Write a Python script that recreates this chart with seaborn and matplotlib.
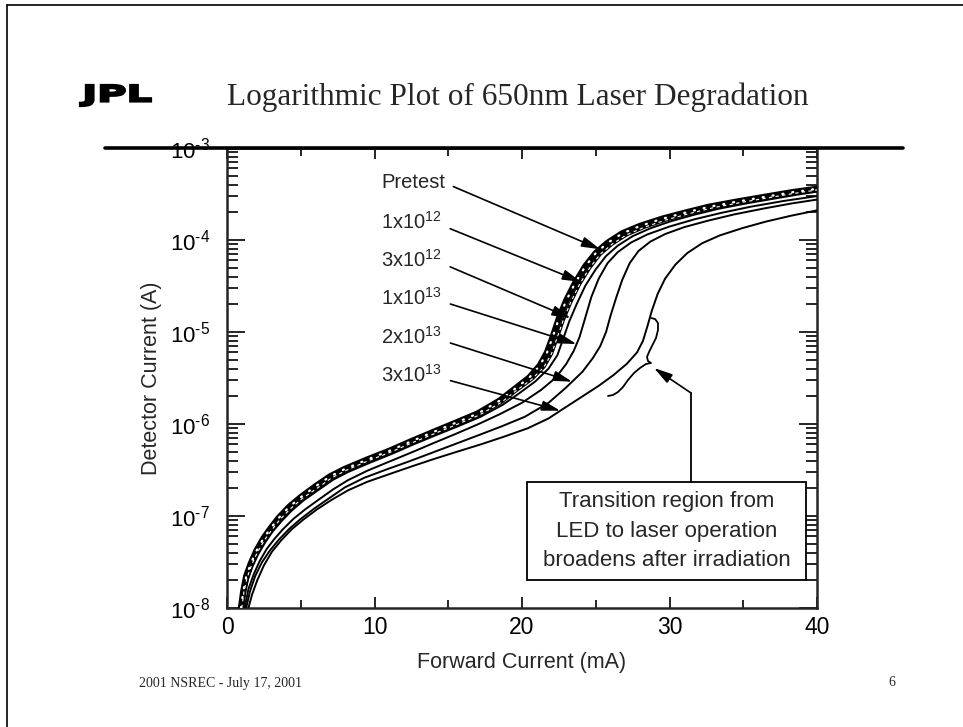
import numpy as np
import pandas as pd
import matplotlib
matplotlib.use("Agg")
import matplotlib.pyplot as plt
import seaborn as sns
from matplotlib.ticker import LogLocator, MultipleLocator, NullFormatter, FuncFormatter
from matplotlib.textpath import TextPath
from matplotlib.patches import PathPatch, Rectangle
from matplotlib.font_manager import FontProperties
from matplotlib.transforms import Affine2D
from matplotlib.lines import Line2D

# ---------------- data: forward current (mA) vs detector current (A) ----------------
doses = ["Pretest", "1x10$^{12}$", "3x10$^{12}$", "1x10$^{13}$", "2x10$^{13}$", "3x10$^{13}$"]

pretest_ma = [0.95, 1.1, 1.3, 1.6, 2.0, 2.5, 3.0, 3.5, 4.2, 5.0, 6.0, 7.0, 8.0, 9.5, 11.0,
              12.5, 14.0, 15.5, 17.0, 18.5, 19.5, 20.5, 21.2, 21.7, 22.1, 22.5, 23.0, 23.6,
              24.3, 25.0, 25.8, 26.8, 28.0, 29.5, 31.0, 32.7, 34.5, 36.5, 38.3, 40.0]
pretest_a = [1.0e-8, 1.5e-8, 2.2e-8, 3.0e-8, 4.2e-8, 5.8e-8, 7.5e-8, 9.5e-8, 1.25e-7, 1.6e-7,
             2.1e-7, 2.7e-7, 3.25e-7, 4.1e-7, 5.1e-7, 6.5e-7, 8.2e-7, 1.03e-6, 1.3e-6, 1.8e-6,
             2.4e-6, 3.2e-6, 4.3e-6, 6.0e-6, 9.0e-6, 1.4e-5, 2.2e-5, 3.4e-5, 5.2e-5, 7.2e-5,
             9.3e-5, 1.18e-4, 1.42e-4, 1.7e-4, 1.97e-4, 2.3e-4, 2.6e-4, 2.95e-4, 3.3e-4, 3.6e-4]

d1e12_ma = [1.0, 1.15, 1.35, 1.65, 2.05, 2.55, 3.05, 3.6, 4.3, 5.1, 6.1, 7.1, 8.1, 9.6, 11.1,
            12.6, 14.1, 15.6, 17.1, 18.6, 19.6, 20.7, 21.5, 22.0, 22.4, 22.8, 23.3, 23.9,
            24.6, 25.3, 26.1, 27.1, 28.3, 29.8, 31.3, 33.0, 34.8, 36.7, 38.4, 40.0]
d1e12_a = [1.0e-8, 1.5e-8, 2.1e-8, 2.9e-8, 4.0e-8, 5.5e-8, 7.1e-8, 9.2e-8, 1.2e-7, 1.55e-7,
           2.0e-7, 2.6e-7, 3.15e-7, 4.0e-7, 4.95e-7, 6.3e-7, 7.9e-7, 9.9e-7, 1.25e-6, 1.72e-6,
           2.3e-6, 3.1e-6, 4.2e-6, 5.8e-6, 8.8e-6, 1.35e-5, 2.1e-5, 3.3e-5, 5.0e-5, 7.0e-5,
           9.0e-5, 1.14e-4, 1.38e-4, 1.66e-4, 1.93e-4, 2.25e-4, 2.55e-4, 2.88e-4, 3.2e-4, 3.5e-4]

d3e12_ma = [1.05, 1.2, 1.4, 1.7, 2.1, 2.6, 3.1, 3.7, 4.4, 5.2, 6.2, 7.2, 8.2, 9.7, 11.2,
            12.7, 14.2, 15.7, 17.2, 18.7, 19.8, 20.9, 21.8, 22.4, 22.8, 23.2, 23.7, 24.3,
            25.0, 25.7, 26.5, 27.5, 28.7, 30.1, 31.6, 33.3, 35.1, 37.0, 38.6, 40.0]
d3e12_a = [1.0e-8, 1.45e-8, 2.0e-8, 2.75e-8, 3.8e-8, 5.2e-8, 6.8e-8, 8.8e-8, 1.15e-7, 1.48e-7,
           1.92e-7, 2.48e-7, 3.0e-7, 3.8e-7, 4.75e-7, 6.05e-7, 7.6e-7, 9.5e-7, 1.2e-6, 1.62e-6,
           2.15e-6, 2.9e-6, 4.0e-6, 5.6e-6, 8.5e-6, 1.3e-5, 2.0e-5, 3.2e-5, 4.8e-5, 6.7e-5,
           8.7e-5, 1.1e-4, 1.34e-4, 1.6e-4, 1.87e-4, 2.18e-4, 2.48e-4, 2.8e-4, 3.1e-4, 3.35e-4]

d1e13_ma = [1.2, 1.45, 1.8, 2.2, 2.7, 3.2, 3.8, 4.5, 5.3, 6.2, 7.2, 8.2, 9.5, 11.0, 12.5,
            14.0, 15.5, 17.0, 18.5, 20.0, 21.3, 22.3, 23.0, 23.5, 23.9, 24.3, 24.7, 25.2,
            25.8, 26.5, 27.4, 28.5, 30.0, 31.7, 33.5, 35.5, 37.7, 40.0]
d1e13_a = [1.0e-8, 1.6e-8, 2.3e-8, 3.2e-8, 4.4e-8, 5.6e-8, 7.2e-8, 9.3e-8, 1.18e-7, 1.5e-7,
           1.95e-7, 2.45e-7, 3.1e-7, 3.9e-7, 4.9e-7, 6.2e-7, 7.8e-7, 9.9e-7, 1.28e-6, 1.7e-6,
           2.35e-6, 3.2e-6, 4.5e-6, 6.2e-6, 8.8e-6, 1.45e-5, 2.4e-5, 3.8e-5, 5.6e-5, 7.4e-5,
           9.4e-5, 1.15e-4, 1.4e-4, 1.68e-4, 1.97e-4, 2.3e-4, 2.65e-4, 3.0e-4]

d2e13_ma = [1.3, 1.55, 1.9, 2.35, 2.9, 3.5, 4.2, 5.0, 5.9, 6.9, 8.0, 9.3, 10.8, 12.3, 13.8,
            15.4, 17.0, 18.6, 20.2, 21.8, 23.0, 24.1, 24.8, 25.3, 25.7, 26.0, 26.4, 26.8,
            27.3, 27.9, 28.7, 29.7, 31.0, 32.6, 34.4, 36.4, 38.3, 40.0]
d2e13_a = [1.0e-8, 1.5e-8, 2.2e-8, 3.1e-8, 4.2e-8, 5.5e-8, 7.2e-8, 9.3e-8, 1.2e-7, 1.55e-7,
           2.05e-7, 2.6e-7, 3.2e-7, 3.9e-7, 4.8e-7, 6.0e-7, 7.5e-7, 9.4e-7, 1.2e-6, 1.7e-6,
           2.5e-6, 3.7e-6, 5.2e-6, 7.0e-6, 1.0e-5, 1.5e-5, 2.4e-5, 3.7e-5, 5.6e-5, 7.6e-5,
           9.6e-5, 1.16e-4, 1.38e-4, 1.62e-4, 1.9e-4, 2.2e-4, 2.5e-4, 2.75e-4]

d3e13_ma = [1.45, 1.7, 2.05, 2.5, 3.05, 3.7, 4.4, 5.2, 6.1, 7.1, 8.2, 9.5, 11.0, 12.5, 14.0,
            15.6, 17.2, 18.8, 20.4, 21.8, 22.9, 24.0, 25.2, 26.2, 27.1, 27.8, 28.2, 28.5,
            28.8, 29.2, 29.7, 30.4, 31.2, 32.2, 33.4, 34.9, 36.5, 38.2, 40.0]
d3e13_a = [1.0e-8, 1.4e-8, 2.0e-8, 2.9e-8, 4.1e-8, 5.5e-8, 7.2e-8, 9.2e-8, 1.18e-7, 1.5e-7,
           1.9e-7, 2.35e-7, 2.85e-7, 3.45e-7, 4.15e-7, 5.0e-7, 6.0e-7, 7.3e-7, 9.0e-7, 1.15e-6,
           1.5e-6, 1.95e-6, 2.6e-6, 3.4e-6, 4.5e-6, 6.0e-6, 8.0e-6, 1.15e-5, 1.7e-5, 2.6e-5,
           3.8e-5, 5.4e-5, 7.2e-5, 9.2e-5, 1.12e-4, 1.34e-4, 1.58e-4, 1.83e-4, 2.1e-4]

series_ma = [pretest_ma, d1e12_ma, d3e12_ma, d1e13_ma, d2e13_ma, d3e13_ma]
series_a = [pretest_a, d1e12_a, d3e12_a, d1e13_a, d2e13_a, d3e13_a]

# where each label's arrow meets its curve (mA)
arrow_at_ma = [25.3, 24.0, 23.3, 23.7, 23.4, 22.6]

x_ticks = [0, 10, 20, 30, 40]

df = pd.concat(
    [pd.DataFrame({"current": ma, "detector": a, "dose": d})
     for d, ma, a in zip(doses, series_ma, series_a)],
    ignore_index=True)

# ---------------- style ----------------
sns.set_style("ticks")
plt.rcParams["font.family"] = ["Liberation Sans", "DejaVu Sans"]
plt.rcParams["mathtext.fontset"] = "custom"
plt.rcParams["mathtext.rm"] = "Liberation Sans"
plt.rcParams["mathtext.it"] = "Liberation Sans:italic"
plt.rcParams["mathtext.bf"] = "Liberation Sans:bold"
plt.rcParams["axes.unicode_minus"] = False

W, H = 963, 727
fig = plt.figure(figsize=(W / 100, H / 100), dpi=100)
fig.patch.set_facecolor("white")


def fx(px):
    return px / W


def fy(py):
    return 1 - py / H


AX_L, AX_R, AX_T, AX_B = 227, 817, 148, 608
ax = fig.add_axes([fx(AX_L), fy(AX_B), (AX_R - AX_L) / W, (AX_B - AX_T) / H])
ax.set_facecolor("white")


def afrac(px, py):
    return (px - AX_L) / (AX_R - AX_L), (AX_B - py) / (AX_B - AX_T)


ax.set_yscale("log")

# ---------------- curves ----------------
widths = {doses[0]: 4.6, doses[1]: 2.4, doses[2]: 1.4, doses[3]: 1.4, doses[4]: 1.4, doses[5]: 1.4}
for d in doses[::-1]:
    sub = df[df["dose"] == d]
    sns.lineplot(data=sub, x="current", y="detector", ax=ax, color="black", lw=widths[d],
                 estimator=None, sort=False, legend=False, zorder=3)

# white marks running inside the heavy pretest trace and the 1e12 trace
sub = df[df["dose"] == doses[1]]
sns.lineplot(data=sub, x="current", y="detector", ax=ax, color="white", lw=0.8,
             linestyle=(0, (3, 3)), estimator=None, sort=False, legend=False, zorder=4)
sub = df[df["dose"] == doses[0]]
sns.lineplot(data=sub, x="current", y="detector", ax=ax, color="white", lw=1.6,
             linestyle=(0, (0.5, 4.0)), dash_capstyle="round", estimator=None, sort=False,
             legend=False, zorder=4)

ax.set_xlim(0, 40)
ax.set_ylim(1e-8, 1e-3)

ax.xaxis.set_major_locator(MultipleLocator(10))
ax.xaxis.set_minor_locator(MultipleLocator(5))
ax.set_xticks(x_ticks)
ax.yaxis.set_major_locator(LogLocator(base=10, numticks=12))
ax.yaxis.set_minor_locator(LogLocator(base=10, subs=np.arange(2, 10), numticks=30))
ax.yaxis.set_minor_formatter(NullFormatter())
ax.yaxis.set_major_formatter(
    FuncFormatter(lambda v, pos: r"$10^{\text{-}%d}$" % round(-np.log10(v))))

for s in ax.spines.values():
    s.set_linewidth(1.8)
    s.set_visible(True)
ax.tick_params(which="both", direction="in", top=True, right=True, width=1.2, colors="black")
ax.tick_params(axis="x", which="major", length=8, pad=6, labelsize=16.5)
ax.tick_params(axis="x", which="minor", length=6)
ax.tick_params(axis="y", which="major", length=13, pad=12, labelsize=16)
ax.tick_params(axis="y", which="minor", length=8)

ax.set_xlabel("Forward Current (mA)", fontsize=15.5)
ax.set_ylabel("Detector Current (A)", fontsize=15.5)
ax.xaxis.set_label_coords(0.5, -0.096)
ax.yaxis.set_label_coords(-0.11, 0.5)

# ---------------- dose labels with arrows ----------------
label_pos = [(381, 183), (381, 222), (381, 260), (381, 298), (381, 337), (381, 375)]
relpos = [(1.0, 0.5), (1.0, 0.35), (1.0, 0.35), (1.0, 0.35), (1.0, 0.35), (1.0, 0.35)]
for d, ma, a, xt, (lx, ly), rp in zip(doses, series_ma, series_a, arrow_at_ma, label_pos, relpos):
    yt = 10 ** np.interp(xt, ma, np.log10(a))
    ax.annotate(d, xy=(xt, yt), xycoords="data", xytext=afrac(lx, ly),
                textcoords="axes fraction", ha="left", va="center", fontsize=14.5, zorder=6,
                arrowprops=dict(arrowstyle="-|>,head_length=0.8,head_width=0.22",
                                color="black", lw=1.2, mutation_scale=14,
                                shrinkA=4, shrinkB=0, relpos=rp))

# ---------------- transition note ----------------
bx0, by0 = afrac(527, 580)
bx1, by1 = afrac(806, 482)
ax.add_patch(Rectangle((bx0, by0), bx1 - bx0, by1 - by0, transform=ax.transAxes,
                       facecolor="white", edgecolor="black", lw=1.3, zorder=5))
cx, cy = afrac(666.5, 531)
ax.text(cx, cy, "Transition region from\nLED to laser operation\nbroadens after irradiation",
        transform=ax.transAxes, ha="center", va="center", fontsize=16, linespacing=1.5,
        zorder=6)

# leader from the note up to the brace
lx0, ly0 = afrac(691, 482)
lx1, ly1 = afrac(691, 393)
ax.plot([lx0, lx1], [ly0, ly1], transform=ax.transAxes, color="black", lw=1.3, zorder=5)
ax.annotate("", xy=afrac(654, 368), xycoords="axes fraction", xytext=(lx1, ly1),
            textcoords="axes fraction",
            arrowprops=dict(arrowstyle="-|>,head_length=0.8,head_width=0.22", color="black",
                            lw=1.2, mutation_scale=14, shrinkA=0, shrinkB=0), zorder=6)

brace_px = [(651, 318), (655, 319), (658, 323), (658, 330), (656, 338), (652, 346), (649, 352),
            (647, 357), (648, 361), (651, 363), (646, 364), (640, 368), (634, 373), (628, 380),
            (623, 387), (618, 392), (613, 395), (608, 396)]
bxs, bys = zip(*[afrac(px, py) for px, py in brace_px])
ax.plot(bxs, bys, transform=ax.transAxes, color="black", lw=1.3, zorder=5,
        solid_joinstyle="round", solid_capstyle="round")

# ---------------- slide furniture ----------------
fig.text(0.538, fy(97), "Logarithmic Plot of 650nm Laser Degradation", ha="center",
         va="center", fontsize=22.5, family="Liberation Serif")

tp = TextPath((0, 0), "JPL", size=1, prop=FontProperties(family="DejaVu Sans", weight="bold"))
ext = tp.get_extents()
jx0, jx1, jy0, jy1 = 80, 151, 85, 106
logo_tr = (Affine2D().translate(-ext.x0, -ext.y0)
           .scale((jx1 - jx0) / ext.width / W, (jy1 - jy0) / ext.height / H)
           .translate(fx(jx0), fy(jy1)) + fig.transFigure)
fig.add_artist(PathPatch(tp, transform=logo_tr, facecolor="black", edgecolor="black", lw=1.6))

fig.add_artist(Line2D([fx(105), fx(903)], [fy(148), fy(148)], color="black", lw=2.6, zorder=10))
fig.add_artist(Line2D([fx(7), fx(963)], [fy(5), fy(5)], color="black", lw=1.2))
fig.add_artist(Line2D([fx(7), fx(7)], [fy(5), fy(727)], color="black", lw=1.2))

fig.text(fx(139), fy(683), "2001 NSREC - July 17, 2001", ha="left", va="center",
         fontsize=10, family="Liberation Serif")
fig.text(fx(888), fy(683), "6", ha="left", va="center", fontsize=10,
         family="Liberation Serif")

fig.savefig("out.png", dpi=100, facecolor="white")
